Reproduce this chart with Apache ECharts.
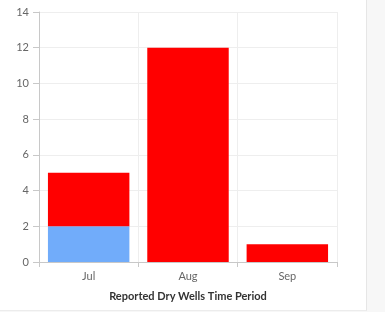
<!DOCTYPE html>
<html>
<head>
<meta charset="utf-8">
<script src="https://cdn.jsdelivr.net/npm/echarts@6/dist/echarts.min.js"></script>
<style>
  html, body { margin: 0; padding: 0; background: #f7f7f7; }
  #panel { position: absolute; left: 0; top: 0; width: 366px; height: 310px; background: #fff;
           border-right: 1px solid #e6e6e6; border-bottom: 1px solid #ececec; }
  #chart { width: 366px; height: 310px; }
</style>
</head>
<body>
<div id="panel"><div id="chart"></div></div>
<script>
  // data
  const months = ['Jul', 'Aug', 'Sep']
  const blueValues = [2, 0, 0]
  const redValues = [3, 12, 1]
  const yTicks = { min: 0, max: 14, interval: 2 }

  const chart = echarts.init(document.getElementById('chart'))
  const font = 'Lato, "Noto Sans", sans-serif'

  let option = {
    animation: false,
    textStyle: { fontFamily: font },
    grid: { left: 39, right: 29, top: 12, bottom: 48 },
    xAxis: {
      type: 'category',
      data: months,
      axisLine: { lineStyle: { color: '#c8c8c8' } },
      axisTick: { show: true, length: 5, lineStyle: { color: '#c8c8c8' } },
      axisLabel: { color: '#666', fontSize: 11, margin: 9, fontFamily: font },
      splitLine: { show: true, lineStyle: { color: '#eeeeee' } },
      name: 'Reported Dry Wells Time Period',
      nameLocation: 'middle',
      nameGap: 29,
      nameTextStyle: { color: '#333', fontSize: 11, fontWeight: 'bold', fontFamily: font }
    },
    yAxis: {
      type: 'value',
      min: yTicks.min,
      max: yTicks.max,
      interval: yTicks.interval,
      axisLine: { show: true, lineStyle: { color: '#c8c8c8' } },
      axisTick: { show: true, length: 6, lineStyle: { color: '#c8c8c8' } },
      axisLabel: { color: '#666', fontSize: 11, margin: 10, fontFamily: font },
      splitLine: { show: true, lineStyle: { color: '#eeeeee' } }
    },
    series: [
      {
        name: 'Group A',
        type: 'bar',
        stack: 'wells',
        barWidth: '82%',
        itemStyle: { color: '#71acfa' },
        data: blueValues
      },
      {
        name: 'Group B',
        type: 'bar',
        stack: 'wells',
        barWidth: '82%',
        itemStyle: { color: '#ff0000' },
        data: redValues
      }
    ]
  }

  chart.setOption(option)
</script>
</body>
</html>
